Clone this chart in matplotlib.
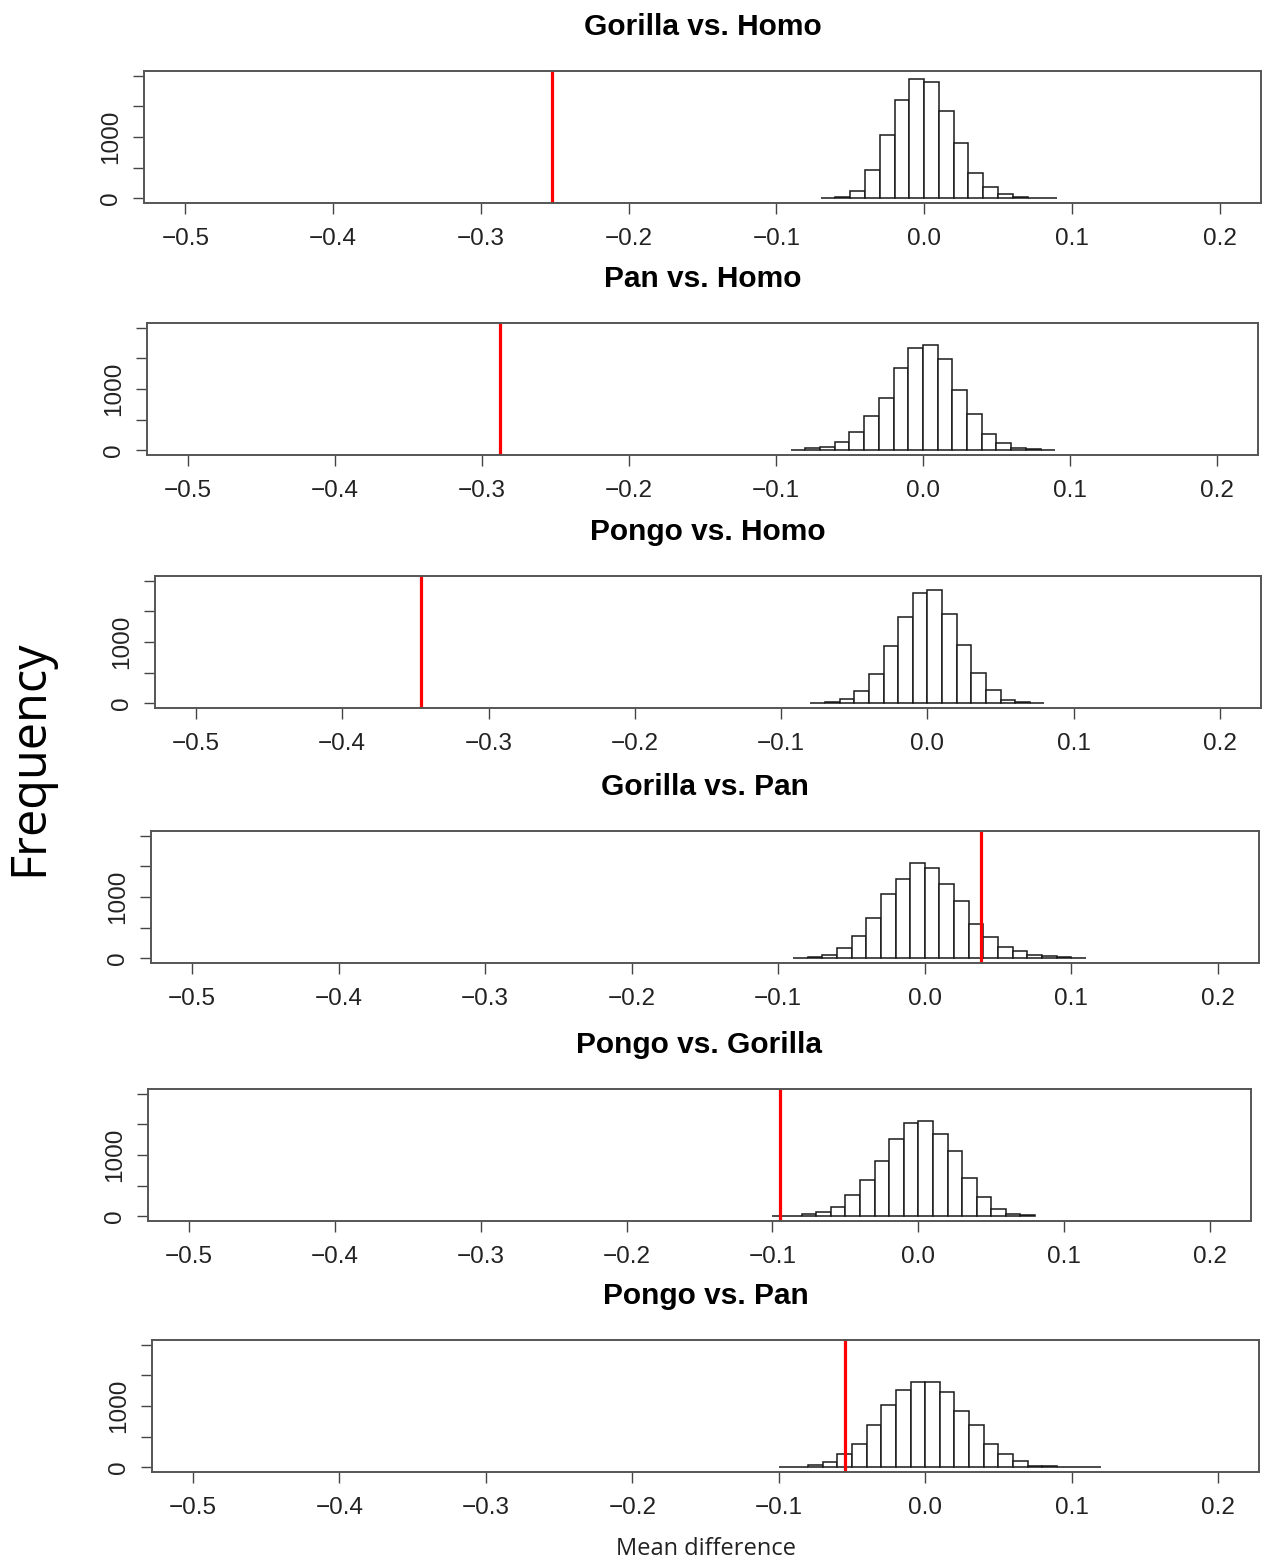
"""Permutation null distributions of mean difference, one panel per species pair."""

import matplotlib

matplotlib.use("Agg")
import matplotlib.pyplot as plt

plt.rcParams["font.family"] = ["Liberation Sans", "DejaVu Sans"]

titles = [
    "Gorilla vs. Homo",
    "Pan vs. Homo",
    "Pongo vs. Homo",
    "Gorilla vs. Pan",
    "Pongo vs. Gorilla",
    "Pongo vs. Pan",
]

# lower edge of the first 0.01-wide bin, per panel
bin_start = [-0.07, -0.09, -0.08, -0.09, -0.10, -0.10]

counts = [
    [5, 16, 115, 454, 1027, 1601, 1956, 1907, 1426, 896, 415, 186, 71, 16, 5, 3],
    [5, 27, 55, 137, 300, 557, 847, 1339, 1667, 1721, 1497, 984, 590, 262, 109, 33, 15, 5],
    [3, 16, 60, 202, 481, 934, 1415, 1809, 1858, 1464, 956, 486, 208, 55, 16, 5],
    [3, 16, 49, 169, 361, 650, 1044, 1295, 1552, 1470, 1208, 934, 552, 339, 186, 109, 44, 27, 11, 5],
    [2, 5, 27, 60, 142, 339, 590, 902, 1268, 1530, 1552, 1350, 1066, 623, 311, 109, 38, 11],
    [3, 5, 33, 87, 208, 383, 683, 1022, 1268, 1393, 1393, 1230, 913, 683, 372, 208, 93, 22, 16, 8, 3, 2],
]

observed = [-0.252, -0.288, -0.346, 0.038, -0.095, -0.055]

bin_width = 0.01
x_ticks = [-0.5, -0.4, -0.3, -0.2, -0.1, 0.0, 0.1, 0.2]
y_ticks = [0, 500, 1000, 1500, 2000]

W, H = 1266, 1564
# box (left, right, top, bottom) in pixels for each stacked panel
boxes = [
    (144, 1261, 71, 203),
    (147, 1258, 323, 455),
    (155, 1261, 576, 708),
    (151, 1259, 831, 963),
    (148, 1251, 1089, 1221),
    (152, 1259, 1340, 1472),
]

fig = plt.figure(figsize=(W / 100, H / 100), dpi=100)

for i, (l, r, t, b) in enumerate(boxes):
    ax = fig.add_axes([l / W, 1 - b / H, (r - l) / W, (b - t) / H])
    lefts = [bin_start[i] + k * bin_width for k in range(len(counts[i]))]
    ax.bar(lefts, counts[i], width=bin_width, align="edge",
           color="white", edgecolor="#1a1a1a", linewidth=1.1)
    ax.axvline(observed[i], color="#ff0000", linewidth=2.3)
    ax.set_xlim(-0.528, 0.228)
    ax.set_ylim(-80, 2080)
    ax.set_xticks(x_ticks)
    ax.set_xticklabels([f"{v:.1f}".replace("-", "\u2212") for v in x_ticks])
    ax.set_yticks(y_ticks)
    ax.set_yticklabels(["0", "", "1000", "", ""], rotation=90, va="center")
    ax.tick_params(axis="both", length=8, width=1.0, color="#444444",
                   labelsize=17.5, pad=8, labelcolor="#222222")
    ax.tick_params(axis="x", pad=10)
    for s in ax.spines.values():
        s.set_color("#555555")
        s.set_linewidth(1.4)
    cx = (l + r) / 2
    fig.text(cx / W, 1 - (t - 44) / H, titles[i], ha="center", va="center",
             fontsize=21.5, fontweight="bold")

fig.text(30 / W, 1 - 758 / H, "Frequency", rotation=90, ha="center", va="center",
         fontsize=35, family=["Open Sans", "DejaVu Sans"])
fig.text(706 / W, 1 - 1549 / H, "Mean difference", ha="center", va="center",
         fontsize=17, family=["Open Sans", "DejaVu Sans"], color="#222222")

fig.savefig("out.png", dpi=100, facecolor="white")
